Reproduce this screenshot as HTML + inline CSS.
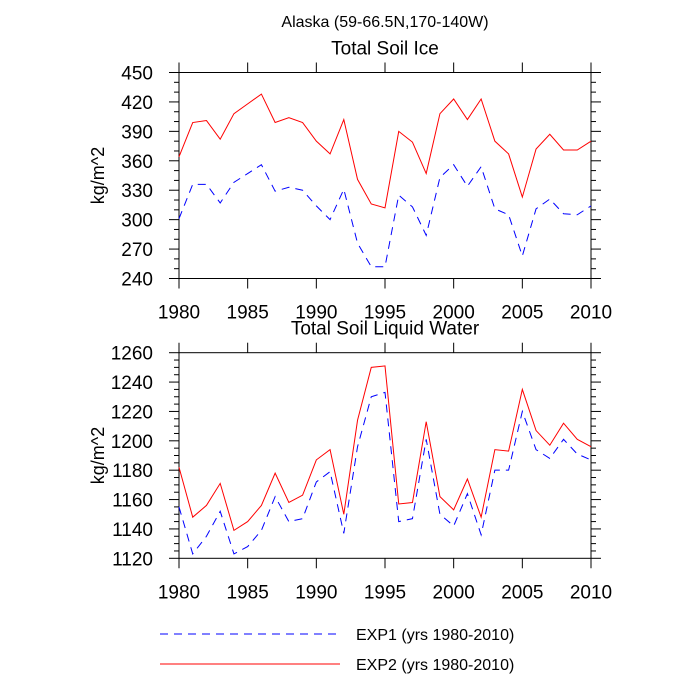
<!DOCTYPE html>
<html><head><meta charset="utf-8"><style>
html,body{margin:0;padding:0;background:#fff;}
svg{display:block;font-family:"Liberation Sans",Arial,sans-serif;}
</style></head><body>
<svg id="chart" width="700" height="700" viewBox="0 0 700 700">
<text x="385" y="27" font-size="16" text-anchor="middle">Alaska (59-66.5N,170-140W)</text>
<g id="legend">
<line x1="160" y1="634" x2="340" y2="634" stroke="#0000ff" stroke-width="1" stroke-dasharray="8,6"/>
<text x="356" y="640" font-size="16">EXP1 (yrs 1980-2010)</text>
<line x1="160" y1="664" x2="340" y2="664" stroke="#ff0000" stroke-width="1"/>
<text x="356" y="670" font-size="16">EXP2 (yrs 1980-2010)</text>
</g>
</svg>
<script>
const years = [];
for (let y = 1980; y <= 2010; y++) years.push(y);
const xTicks = [1980, 1985, 1990, 1995, 2000, 2005, 2010];
const iceExp2 = [364,399,401,382,408,418,428,399,404,399,380,367,402,341,316,312,390,379,347,408,423,402,423,380,367,323,372,387,371,371,380];
const iceExp1 = [301,336,336,317,338,347,356,329,333,330,314,300,331,276,252,252,325,313,284,343,356,334,354,311,305,263,311,321,306,305,314];
const iceTicks = [240,270,300,330,360,390,420,450];
const liqExp2 = [1182,1148,1156,1171,1139,1145,1156,1178,1158,1163,1187,1194,1150,1214,1250,1251,1157,1158,1213,1162,1153,1174,1148,1194,1193,1235,1207,1197,1212,1201,1196];
const liqExp1 = [1155,1123,1135,1152,1123,1128,1139,1162,1145,1147,1172,1179,1137,1196,1230,1233,1145,1147,1201,1150,1142,1164,1136,1180,1180,1220,1194,1188,1201,1191,1187];
const liqTicks = [1120,1140,1160,1180,1200,1220,1240,1260];

const svg = document.getElementById('chart');
const NS = 'http://www.w3.org/2000/svg';
function mk(tag, attrs, parent) {
  const e = document.createElementNS(NS, tag);
  for (const k in attrs) e.setAttribute(k, attrs[k]);
  (parent || svg).appendChild(e);
  return e;
}
function panel(key, title, top, bottom, ticks, minorPer, s1, s2) {
  const X0 = 179, X1 = 591;
  const vmin = ticks[0], vmax = ticks[ticks.length - 1];
  const xs = v => X0 + (v - 1980) / 30 * (X1 - X0);
  const ys = v => bottom - (v - vmin) / (vmax - vmin) * (bottom - top);
  const g = mk('g', {});
  
  
  const t = mk('text', {x: 385, y: top - 18, 'font-size': 19, 'text-anchor': 'middle'}, g);
  t.textContent = title;
  
  
  const yt = mk('text', {x: 0, y: 0, 'font-size': 18, 'text-anchor': 'middle', transform: 'translate(104,' + ((top + bottom) / 2) + ') rotate(-90)'}, g);
  yt.textContent = 'kg/m^2';
  
  
  const axis = mk('g', {stroke: '#000', 'stroke-width': 1}, g);
  
  
  mk('rect', {x: X0, y: top, width: X1 - X0, height: bottom - top, fill: 'none'}, axis);
  xTicks.forEach(v => {
    const x = xs(v);
    mk('line', {x1: x, y1: top, x2: x, y2: top - 10}, axis);
    mk('line', {x1: x, y1: bottom, x2: x, y2: bottom + 10}, axis);
    const l = mk('text', {x: x, y: bottom + 40, 'font-size': 19, 'text-anchor': 'middle', stroke: 'none'}, g);
    l.textContent = v;
    
    
  });
  for (let i = 0; i < ticks.length; i++) {
    const y = ys(ticks[i]);
    mk('line', {x1: X0 - 10, y1: y, x2: X0, y2: y}, axis);
    mk('line', {x1: X1, y1: y, x2: X1 + 10, y2: y}, axis);
    const l = mk('text', {x: 153, y: y + 7, 'font-size': 19, 'text-anchor': 'end'}, g);
    l.textContent = ticks[i];
    
    
    if (i < ticks.length - 1) {
      const step = (ticks[i + 1] - ticks[i]) / minorPer;
      for (let k = 1; k < minorPer; k++) {
        const ym = ys(ticks[i] + k * step);
        mk('line', {x1: X0 - 5, y1: ym, x2: X0, y2: ym}, axis);
        mk('line', {x1: X1, y1: ym, x2: X1 + 5, y2: ym}, axis);
      }
    }
  }
  const p1 = mk('polyline', {points: years.map((yr, i) => xs(yr) + ',' + ys(s1[i])).join(' '), fill: 'none', stroke: '#0000ff', 'stroke-width': 1, 'stroke-dasharray': '8,6'}, g);
  
  
  const p2 = mk('polyline', {points: years.map((yr, i) => xs(yr) + ',' + ys(s2[i])).join(' '), fill: 'none', stroke: '#ff0000', 'stroke-width': 1}, g);
  
  
}
panel('soil-ice', 'Total Soil Ice', 72.5, 278.5, iceTicks, 3, iceExp1, iceExp2);
panel('soil-liquid', 'Total Soil Liquid Water', 352.7, 558.3, liqTicks, 4, liqExp1, liqExp2);
</script>
</body></html>
